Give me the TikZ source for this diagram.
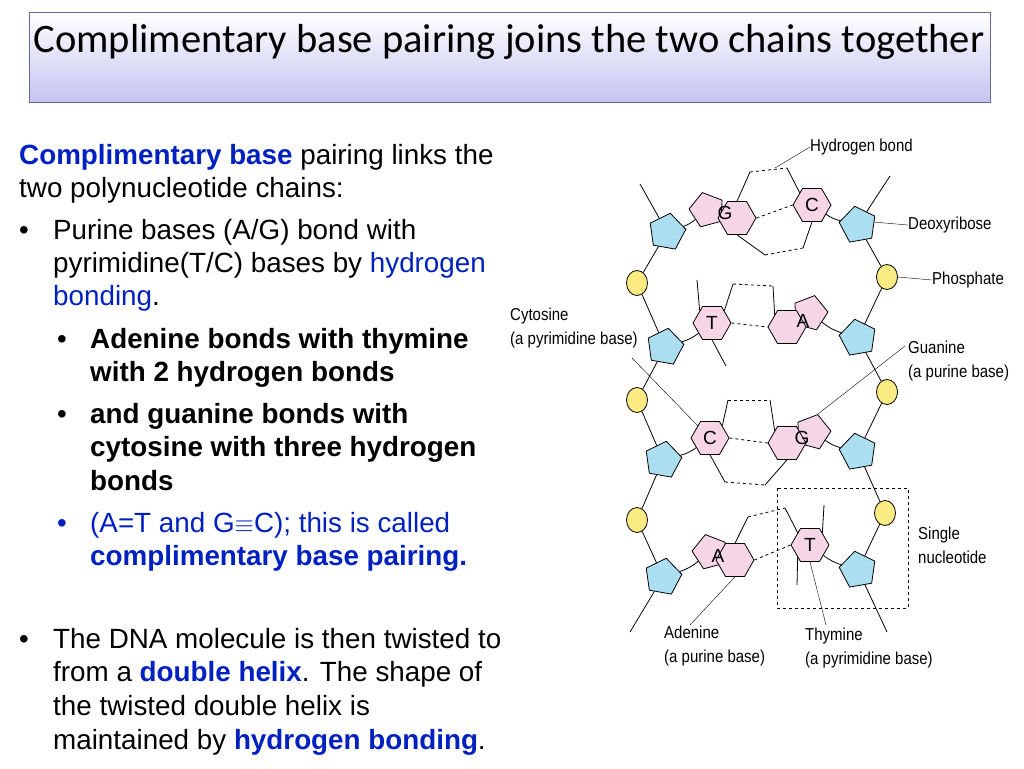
\documentclass[tikz,border=0pt]{standalone}
\usepackage{fontspec}
\setmainfont{Liberation Sans}
\newfontfamily\titlefont{Carlito}
\usetikzlibrary{shapes.geometric}
\definecolor{tblue}{RGB}{0,32,192}
\definecolor{pinkb}{RGB}{246,214,230}
\definecolor{sugar}{RGB}{170,222,240}
\definecolor{phos}{RGB}{250,236,130}
\definecolor{titlebot}{RGB}{196,196,240}
\begin{document}
\begin{tikzpicture}[x=1pt,y=-1pt,
  hexb/.style={regular polygon,regular polygon sides=6,draw,fill=pinkb,minimum size=38pt,inner sep=0pt,font=\fontsize{19}{19}\selectfont,line width=0.8pt},
  pentb/.style={regular polygon,regular polygon sides=5,draw,fill=pinkb,minimum size=36pt,inner sep=0pt,line width=0.8pt},
  sug/.style={regular polygon,regular polygon sides=5,draw,fill=sugar,minimum size=38pt,inner sep=0pt,line width=0.8pt},
  pho/.style={ellipse,draw,fill=phos,minimum width=21pt,minimum height=25pt,inner sep=0pt,line width=0.8pt},
  blet/.style={font=\fontsize{19}{19}\selectfont,inner sep=0pt},
  hb/.style={dashed,line width=0.8pt},
  bond/.style={line width=0.8pt},
  lbl/.style={font=\fontsize{15}{21}\selectfont,align=left,inner sep=0pt,yscale=1.15},
  body/.style={font=\fontsize{27.8}{27.8}\selectfont,inner sep=0pt,anchor=base west}]
\useasboundingbox (0,0) rectangle (1024,768);
\fill[white] (0,0) rectangle (1024,768);
% title
\shade[top color=white,bottom color=titlebot] (29,12) rectangle (990,102);
\draw[draw=gray!80!blue] (29,12) rectangle (990,102);
\node[inner sep=0pt,font=\titlefont\fontsize{40.5}{40.5}\selectfont] (title) at (509,42) {Complimentary base pairing joins the two chains together};
% left text
\node[body] (l1) at (19,164) {\textcolor{tblue}{\textbf{Complimentary base}} pairing links the};
\node[body] (l2) at (19,197) {two polynucleotide chains:};
\node[body] (b1) at (19,239) {•};
\node[body] (l3) at (53,239) {Purine bases (A/G) bond with};
\node[body] (l4) at (53,272) {pyrimidine(T/C) bases by \textcolor{tblue}{hydrogen}};
\node[body,text=tblue] (l5) at (53,305) {bonding\textcolor{black}{.}};
\node[body] (b2) at (57,348) {•};
\node[body] (l6) at (90,348) {\textbf{Adenine bonds with thymine}};
\node[body] (l7) at (90,381) {\textbf{with 2 hydrogen bonds}};
\node[body] (b3) at (57,423) {•};
\node[body] (l8) at (90,423) {\textbf{and guanine bonds with}};
\node[body] (l9) at (90,456) {\textbf{cytosine with three hydrogen}};
\node[body] (l10) at (90,490) {\textbf{bonds}};
\node[body,text=tblue] (b4) at (57,532) {•};
\node[body,text=tblue] (l11) at (90,532) {(A=T and G$\equiv$C); this is called};
\node[body,text=tblue] (l12) at (90,565) {\textbf{complimentary base pairing.}};
\node[body] (b5) at (19,648) {•};
\node[body] (l13) at (53,648) {The DNA molecule is then twisted to};
\node[body] (l14) at (53,681) {from a \textcolor{tblue}{\textbf{double helix}}. The shape of};
\node[body] (l15) at (53,715) {the twisted double helix is};
\node[body] (l16) at (53,749) {maintained by \textcolor{tblue}{\textbf{hydrogen bonding}}.};
% DNA strands
\coordinate (ltop) at (640,184);
\coordinate (rtop) at (890,176);
\coordinate (lbot) at (630,632);
\coordinate (rbot) at (887,632);
\node[sug,rotate=-10] (ls1) at (667,232) {};
\node[sug,rotate=-10] (ls2) at (665,347) {};
\node[sug,rotate=-10] (ls3) at (663,460) {};
\node[sug,rotate=-10] (ls4) at (663,577) {};
\node[sug,rotate=10] (rs1) at (858,225) {};
\node[sug,rotate=10] (rs2) at (858,338) {};
\node[sug,rotate=10] (rs3) at (858,452) {};
\node[sug,rotate=10] (rs4) at (858,570) {};
\node[pho] (lp1) at (637,283) {};
\node[pho] (lp2) at (637,400) {};
\node[pho] (lp3) at (637,520) {};
\node[pho] (rp1) at (887,277) {};
\node[pho] (rp2) at (887,392) {};
\node[pho] (rp3) at (885,513) {};
\draw[bond] (ltop) -- (ls1) -- (lp1) -- (ls2) -- (lp2) -- (ls3) -- (lp3) -- (ls4) -- (lbot);
\draw[bond] (rtop) -- (rs1) -- (rp1) -- (rs2) -- (rp2) -- (rs3) -- (rp3) -- (rs4) -- (rbot);
% pair 1: G-C
\node[pentb,rotate=15] (gp1) at (707,210) {};
\node[hexb] (g1) at (737,218) {};
\node[blet] (g1l) at (725,213) {G};
\node[hexb] (c1) at (812,205) {C};
\draw[bond] (ls1) to[bend right=10] (gp1);
\draw[bond] (c1) to[bend right=10] (rs1);
\draw[hb] (g1.east) -- (c1.west);
\draw[bond] (g1.north) -- (750,172); \draw[hb] (750,172) -- (787,168); \draw[bond] (787,168) -- (c1.north west);
\draw[bond] (g1.south) -- (765,255); \draw[hb] (765,255) -- (803,248); \draw[bond] (803,248) -- (c1.south);
% pair 2: T-A
\node[hexb] (t2n) at (712,323) {T};
\node[pentb,rotate=-15] (ap2) at (810,313) {};
\node[hexb] (a2) at (787,327) {};
\node[blet] (a2l) at (803,321) {A};
\draw[bond] (ls2) to[bend right=10] (t2n);
\draw[bond] (ap2) to[bend right=10] (rs2);
\draw[bond] (t2n.north west) -- (697,280);
\draw[bond] (t2n.south) -- (726,366);
\draw[hb] (t2n.east) -- (a2.west);
\draw[bond] (t2n.north east) -- (733,284); \draw[hb] (733,284) -- (773,286); \draw[bond] (773,286) -- (a2.north west);
% pair 3: C-G
\node[hexb] (c3) at (710,438) {C};
\node[pentb,rotate=-15] (gp3) at (813,432) {};
\node[hexb] (g3) at (787,443) {};
\node[blet] (g3l) at (802,438) {G};
\draw[bond] (ls3) to[bend right=10] (c3);
\draw[bond] (gp3) to[bend right=10] (rs3);
\draw[hb] (c3.east) -- (g3.west);
\draw[bond] (c3.north east) -- (728,400); \draw[hb] (728,400) -- (770,400); \draw[bond] (770,400) -- (g3.north west);
\draw[bond] (c3.south) -- (725,482); \draw[hb] (725,482) -- (765,485); \draw[bond] (765,485) -- (g3.south);
% pair 4: A-T
\node[pentb,rotate=15] (ap4) at (710,552) {};
\node[hexb] (a4) at (735,560) {};
\node[blet] (a4l) at (718,556) {A};
\node[hexb] (t4n) at (810,545) {T};
\draw[bond] (ls4) to[bend right=10] (ap4);
\draw[bond] (t4n) to[bend right=10] (rs4);
\draw[bond] (t4n.north east) -- (824,505);
\draw[bond] (t4n.south west) -- (797,585);
\draw[hb] (a4.east) -- (t4n.west);
\draw[bond] (a4.north) -- (748,517); \draw[hb] (748,517) -- (785,508); \draw[bond] (785,508) -- (t4n.north west);
% single nucleotide box
\draw[dashed,line width=0.8pt] (777,488) rectangle (908,608);
% labels
\node[lbl,anchor=west] (lhb) at (810,147) {Hydrogen bond};
\draw (lhb.west) -- (775,168);
\node[lbl,anchor=west] (lde) at (908,225) {Deoxyribose};
\draw (lde.west) -- (rs1.east);
\node[lbl,anchor=west] (lph) at (932,280) {Phosphate};
\draw (lph.west) -- (rp1.east);
\node[lbl,anchor=west] (lcy) at (510,328) {Cytosine\\(a pyrimidine base)};
\draw (632,358) -- (c3.north west);
\node[lbl,anchor=west] (lgu) at (908,361) {Guanine\\(a purine base)};
\draw (905,346) -- (gp3.north);
\node[lbl,anchor=west] (lsn) at (918,545) {Single\\nucleotide};
\node[lbl,anchor=west] (lad) at (664,646) {Adenine\\(a purine base)};
\draw (690,625) -- (a4.south);
\node[lbl,anchor=west] (lth) at (805,648) {Thymine\\(a pyrimidine base)};
\draw (826,625) -- (t4n.south);
\end{tikzpicture}
\end{document}
